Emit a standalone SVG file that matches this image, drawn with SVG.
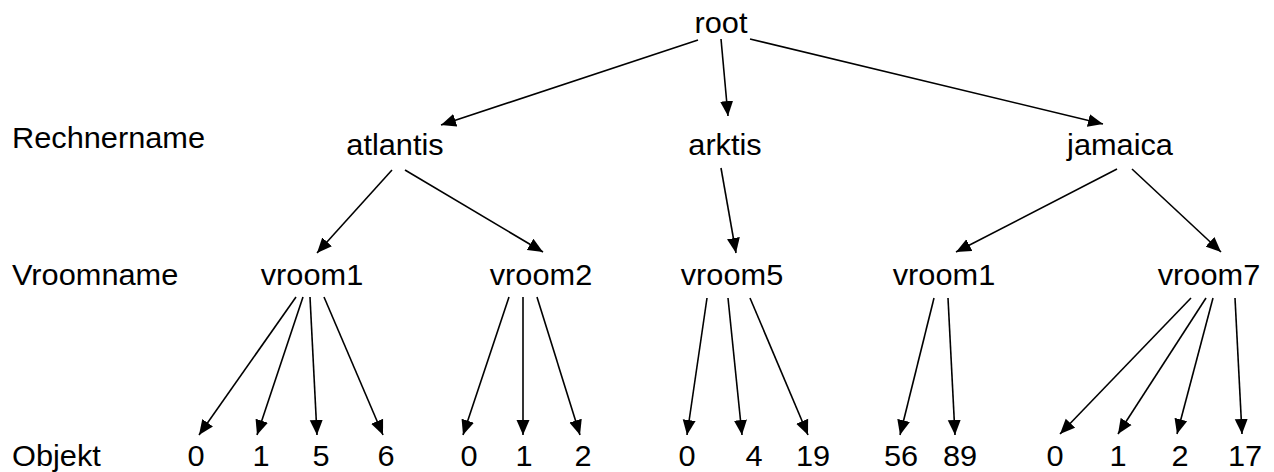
<svg xmlns="http://www.w3.org/2000/svg" width="1274" height="472" viewBox="0 0 1274 472">
<style>
text{font-family:"Liberation Sans",Arial,sans-serif;font-size:29px;fill:#000;text-anchor:middle}
.lbl text{text-anchor:start}
#edges line{stroke:#000;stroke-width:1.6;marker-end:url(#ah)}
</style>
<defs>
<marker id="ah" markerUnits="userSpaceOnUse" markerWidth="16" markerHeight="14" refX="15" refY="6.5" orient="auto" viewBox="0 0 16 13">
<path d="M0,0 L15,6.5 L0,13 z" fill="#000"/>
</marker>
</defs>
<rect width="1274" height="472" fill="#fff"/>
<g id="row-labels" class="lbl">
<g id="lbl-rechner" transform="translate(12,148) scale(1.06,1)"><text>Rechnername</text></g>
<g id="lbl-vroom" transform="translate(12,285) scale(1.06,1)"><text>Vroomname</text></g>
<g id="lbl-objekt" transform="translate(12,466) scale(1.06,1)"><text>Objekt</text></g>
</g>
<g id="edges">
<line x1="698" y1="40" x2="441" y2="125"/>
<line x1="721" y1="39" x2="728" y2="116"/>
<line x1="750" y1="39" x2="1103" y2="124"/>
<line x1="392" y1="170" x2="317" y2="253"/>
<line x1="405" y1="170" x2="543" y2="252"/>
<line x1="721" y1="168" x2="736" y2="253"/>
<line x1="1117" y1="169" x2="956" y2="252"/>
<line x1="1132" y1="169" x2="1221" y2="252"/>
<line x1="296" y1="297" x2="199" y2="435"/>
<line x1="303" y1="297" x2="257" y2="435"/>
<line x1="310" y1="297" x2="317" y2="435"/>
<line x1="324" y1="297" x2="383" y2="435"/>
<line x1="509" y1="297" x2="463" y2="435"/>
<line x1="523" y1="297" x2="523" y2="435"/>
<line x1="537" y1="297" x2="580" y2="435"/>
<line x1="707" y1="298" x2="687" y2="435"/>
<line x1="728" y1="298" x2="742" y2="435"/>
<line x1="750" y1="298" x2="808" y2="435"/>
<line x1="934" y1="298" x2="900" y2="435"/>
<line x1="948" y1="298" x2="955" y2="435"/>
<line x1="1191" y1="298" x2="1060" y2="434"/>
<line x1="1206" y1="298" x2="1118" y2="434"/>
<line x1="1213" y1="298" x2="1177" y2="434"/>
<line x1="1235" y1="298" x2="1242" y2="434"/>
</g>
<g id="n-root" transform="translate(721,33) scale(1.06,1)"><text>root</text></g>
<g id="n-atlantis" transform="translate(395,155) scale(1.06,1)"><text>atlantis</text></g>
<g id="n-arktis" transform="translate(725,155) scale(1.06,1)"><text>arktis</text></g>
<g id="n-jamaica" transform="translate(1120,155) scale(1.06,1)"><text>jamaica</text></g>
<g id="n-atl-vroom1" transform="translate(312,285) scale(1.06,1)"><text>vroom1</text></g>
<g id="n-atl-vroom2" transform="translate(541,285) scale(1.06,1)"><text>vroom2</text></g>
<g id="n-ark-vroom5" transform="translate(732,285) scale(1.06,1)"><text>vroom5</text></g>
<g id="n-jam-vroom1" transform="translate(944,285) scale(1.06,1)"><text>vroom1</text></g>
<g id="n-jam-vroom7" transform="translate(1209,285) scale(1.06,1)"><text>vroom7</text></g>
<g id="n-o1" transform="translate(196,466) scale(1.06,1)"><text>0</text></g>
<g id="n-o2" transform="translate(261,466) scale(1.06,1)"><text>1</text></g>
<g id="n-o3" transform="translate(321,466) scale(1.06,1)"><text>5</text></g>
<g id="n-o4" transform="translate(386,466) scale(1.06,1)"><text>6</text></g>
<g id="n-o5" transform="translate(469,466) scale(1.06,1)"><text>0</text></g>
<g id="n-o6" transform="translate(524,466) scale(1.06,1)"><text>1</text></g>
<g id="n-o7" transform="translate(583,466) scale(1.06,1)"><text>2</text></g>
<g id="n-o8" transform="translate(687,466) scale(1.06,1)"><text>0</text></g>
<g id="n-o9" transform="translate(754,466) scale(1.06,1)"><text>4</text></g>
<g id="n-o10" transform="translate(813,466) scale(1.06,1)"><text>19</text></g>
<g id="n-o11" transform="translate(901,466) scale(1.06,1)"><text>56</text></g>
<g id="n-o12" transform="translate(960,466) scale(1.06,1)"><text>89</text></g>
<g id="n-o13" transform="translate(1055,466) scale(1.06,1)"><text>0</text></g>
<g id="n-o14" transform="translate(1118,466) scale(1.06,1)"><text>1</text></g>
<g id="n-o15" transform="translate(1180,466) scale(1.06,1)"><text>2</text></g>
<g id="n-o16" transform="translate(1245,466) scale(1.06,1)"><text>17</text></g>
</svg>
